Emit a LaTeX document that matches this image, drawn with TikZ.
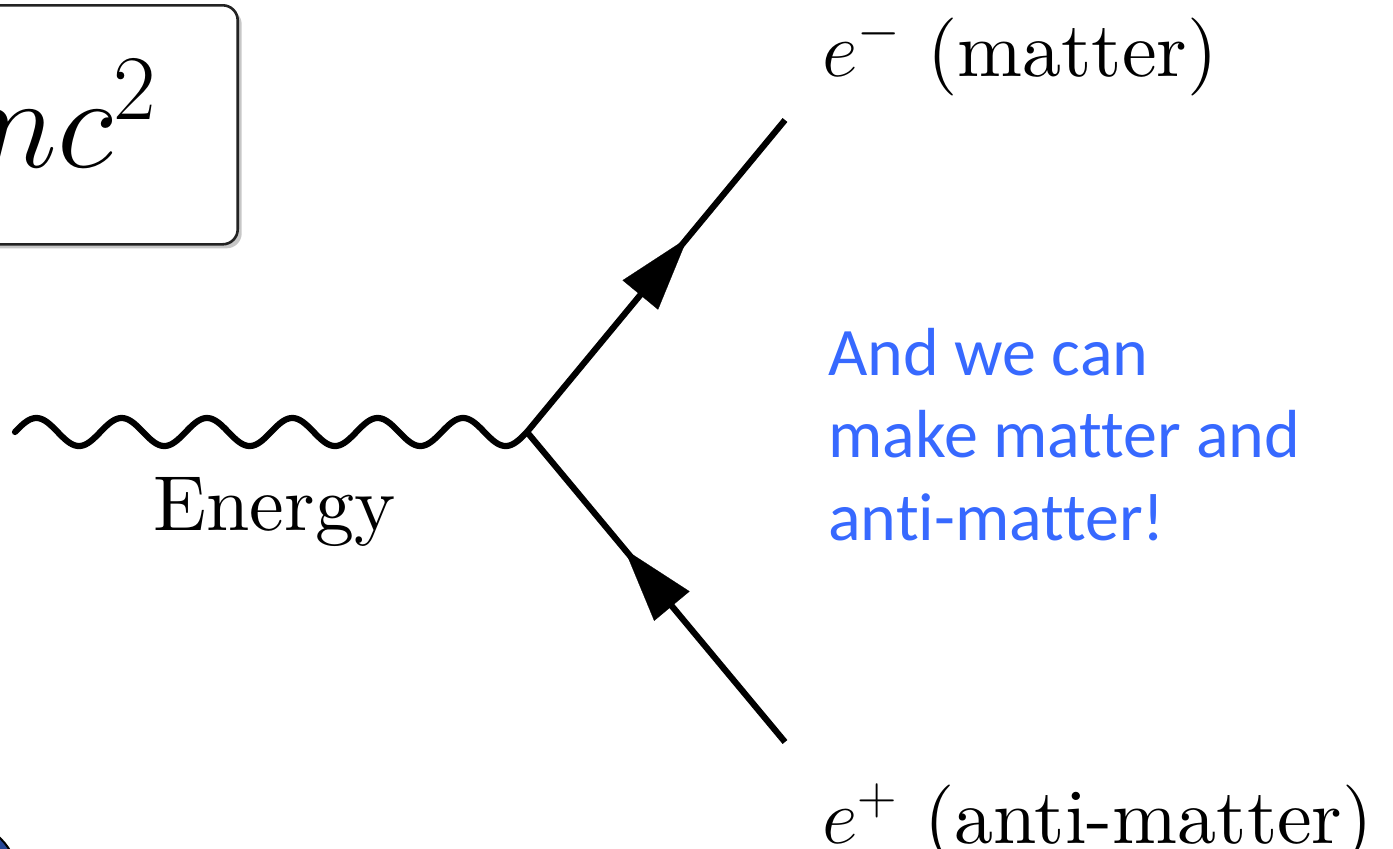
\RequirePackage{fix-cm}
\documentclass[tikz,border=0pt]{standalone}
\usepackage{fontspec}
\newfontfamily\carlito[Ligatures=NoCommon]{Carlito}
\newfontfamily\lmten{lmroman10-regular.otf}
\usetikzlibrary{arrows.meta,decorations.markings,shadows}
\definecolor{bluetext}{RGB}{55,105,255}
\definecolor{ballblue}{RGB}{40,70,150}
\definecolor{boxline}{RGB}{35,35,35}
\begin{document}
\begin{tikzpicture}[x=0.5pt,y=-0.5pt,
  fermion/.style={line width=3.1pt, postaction={decorate},
    decoration={markings, mark=at position 0.622 with {\arrow{Triangle[length=37pt,width=23pt,line width=0.1pt]}}}},
  photon/.style={line width=3.1pt, line cap=round},
  eqbox/.style={draw=boxline, line width=1.3pt, fill=white, rounded corners=7.5pt,
    drop shadow={shadow xshift=2pt, shadow yshift=-2pt, fill=black, opacity=0.22}},
  bigmath/.style={inner sep=0pt, font=\fontsize{66}{70}\selectfont},
  lbl/.style={inner sep=0pt, anchor=base west, font=\lmten\fontsize{39}{44}\selectfont},
  note/.style={inner sep=0pt, anchor=base west, text=bluetext, font=\carlito\fontsize{34}{41}\selectfont}
]
\useasboundingbox (0,0) rectangle (1393,848);
\clip (0,0) rectangle (1393,848);

% partial shape in the lower left corner
\draw[fill=ballblue, line width=1pt] (-40,880) circle (29pt);

% equation box
\node[eqbox, anchor=north east, minimum width=400pt, minimum height=119.5pt] (box) at (239,4) {};
\node[bigmath, anchor=base east] (eq) at (157,167) {$E=mc^2$};

% vertex and end points
\coordinate (v) at (527,432);
\coordinate (top) at (785,120);
\coordinate (bot) at (785,742);
\coordinate (ws) at (15,432);

% photon (wavy line) from ws to the vertex v
\draw[photon] (ws) -- plot[domain=0:512, samples=360, smooth] ({15+\x},{432-14*sin(\x*4.21875)}) -- (v);
\draw[fermion] (v) -- (top);
\draw[fermion] (bot) -- (v);

\node[lbl] (energy) at (153,530) {Energy};
\node[lbl] (em) at (822,76) {$e^-$ (matter)};
\node[lbl] (ep) at (822,843) {$e^+$ (anti-matter)};

\node[note] (n1) at (828,375) {And we can};
\node[note] (n2) at (828,457) {make matter and};
\node[note] (n3) at (828,540) {anti-matter!};
\end{tikzpicture}
\end{document}
